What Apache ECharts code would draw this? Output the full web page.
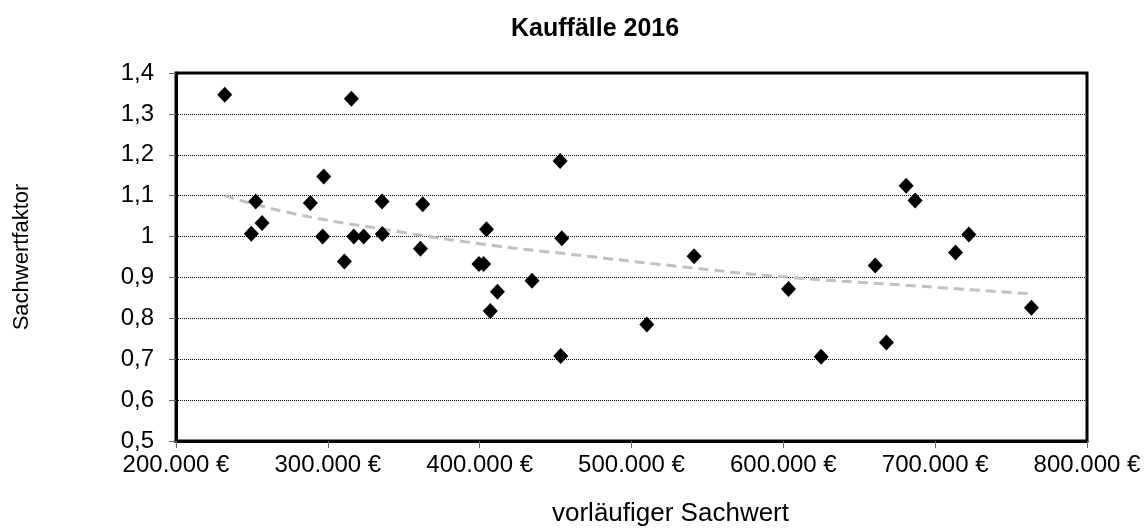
<!DOCTYPE html>
<html>
<head>
<meta charset="utf-8">
<script src="https://cdn.jsdelivr.net/npm/echarts@6/dist/echarts.min.js"></script>
<style>html,body{margin:0;padding:0;background:#fff;}#c{width:1146px;height:532px;}</style>
</head>
<body>
<div id="c"></div>
<script>
// Sachwert (€) and Sachwertfaktor per sale
const sachwert = [232100, 315500, 297300, 252500, 288500, 335700, 362500, 256700, 249600, 296600,
  317100, 323600, 335900, 404500, 361000, 310900, 399500, 402600, 407000, 453000,
  454100, 434500, 411700, 453400, 510100, 541200, 603400, 624900, 660500, 680900,
  686800, 722200, 713400, 763400, 667900];
const faktor = [1.347, 1.337, 1.147, 1.086, 1.082, 1.086, 1.079, 1.033, 1.007, 1.000,
  1.000, 1.000, 1.006, 1.018, 0.970, 0.939, 0.933, 0.933, 0.818, 1.185,
  0.996, 0.892, 0.865, 0.708, 0.785, 0.952, 0.872, 0.706, 0.929, 1.124,
  1.088, 1.005, 0.961, 0.826, 0.741];
// trend line (power) points
const trendX = [232000, 275000, 340000, 405000, 454000, 541000, 598000, 680000, 763000];
const trendY = [1.100, 1.058, 1.016, 0.980, 0.959, 0.923, 0.902, 0.881, 0.860];
const titleText = 'Kauffälle 2016';
const xName = 'vorläufiger Sachwert';
const yName = 'Sachwertfaktor';

const FONT = "'Liberation Sans', Arial, sans-serif";
const points = sachwert.map((v, i) => [v, faktor[i]]);
const trend = trendX.map((v, i) => [v, trendY[i]]);

function fmtEuro(v) {
  return String(Math.round(v)).replace(/\B(?=(\d{3})+(?!\d))/g, '.') + ' €';
}
function fmtFaktor(v) {
  return String(Math.round(v * 10) / 10).replace('.', ',');
}

const chart = echarts.init(document.getElementById('c'), null, {renderer: 'canvas'});
chart.setOption({
  backgroundColor: '#fff',
  animation: false,
  title: {
    text: titleText,
    left: 506, top: 12,
    textStyle: {fontFamily: FONT, fontSize: 25, fontWeight: 'bold', color: '#000'}
  },
  grid: {
    left: 176, right: 59, top: 73, bottom: 84,
    show: true, borderColor: '#000', borderWidth: 3, backgroundColor: 'transparent'
  },
  xAxis: {
    type: 'value', min: 200000, max: 800000, interval: 100000,
    name: xName, nameLocation: 'middle', nameGap: 60,
    nameTextStyle: {fontFamily: FONT, fontSize: 26, color: '#000', padding: [0, 0, 0, 78]},
    axisLine: {show: true, lineStyle: {color: '#000', width: 3}},
    axisTick: {show: true, length: 7, lineStyle: {color: '#666', width: 1}},
    axisLabel: {formatter: fmtEuro, fontFamily: FONT, fontSize: 24, color: '#000', margin: 12},
    splitLine: {show: false}
  },
  yAxis: {
    type: 'value', min: 0.5, max: 1.4, interval: 0.1,
    name: yName, nameLocation: 'middle', nameGap: 143, nameRotate: 90,
    nameTextStyle: {fontFamily: FONT, fontSize: 22, color: '#000'},
    axisLine: {show: true, lineStyle: {color: '#000', width: 3}},
    axisTick: {show: true, length: 7, lineStyle: {color: '#666', width: 1}},
    axisLabel: {formatter: fmtFaktor, fontFamily: FONT, fontSize: 24, color: '#000', margin: 22},
    splitLine: {show: true, lineStyle: {color: '#000', width: 1, type: 'dotted'}}
  },
  series: [
    {
      type: 'line', data: trend, smooth: true, symbol: 'none', z: 1,
      lineStyle: {color: '#c0c0c0', width: 3, type: [10, 6]}
    },
    {
      type: 'scatter', data: points, symbol: 'diamond', symbolSize: [15, 16], z: 3,
      itemStyle: {color: '#000', opacity: 1}
    }
  ]
});
</script>
</body>
</html>
